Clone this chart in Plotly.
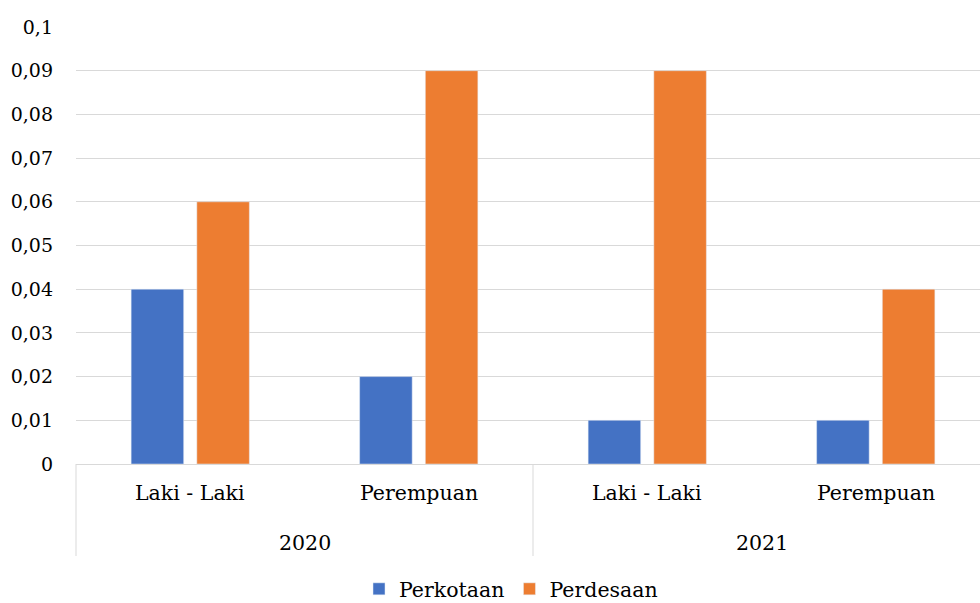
import plotly.graph_objects as go

years = ["2020", "2020", "2021", "2021"]
genders = ["Laki - Laki", "Perempuan", "Laki - Laki", "Perempuan"]
perkotaan = [0.04, 0.02, 0.01, 0.01]
perdesaan = [0.06, 0.09, 0.09, 0.04]
year_labels = ["2020", "2021"]

FONT = "DejaVu Serif"
GRID = "#d9d9d9"
W, H = 990, 603
ML, MT, MB = 76, 27, 139
LBL = 20.5

fig = go.Figure()
fig.add_trace(go.Bar(name="Perkotaan", x=[years, genders], y=perkotaan, marker_color="#4472C4"))
fig.add_trace(go.Bar(name="Perdesaan", x=[years, genders], y=perdesaan, marker_color="#ED7D31"))

plot_h = H - MT - MB
plot_w = W - ML
n = len(genders)
ny = len(year_labels)
annotations = []
for i, g in enumerate(genders):
    annotations.append(dict(x=(i + 0.5) / n, y=-29 / plot_h, xref="paper", yref="paper",
                            xanchor="center", yanchor="middle", text=g, showarrow=False,
                            font=dict(family=FONT, size=LBL)))
for j, yl in enumerate(year_labels):
    annotations.append(dict(x=(j + 0.5) / ny, y=-79 / plot_h, xref="paper", yref="paper",
                            xanchor="center", yanchor="middle", text=yl, showarrow=False,
                            font=dict(family=FONT, size=LBL)))
shapes = []
for j in range(ny + 1):
    shapes.append(dict(type="line", xref="paper", yref="paper", x0=j / ny, x1=j / ny,
                       y0=0, y1=-92 / plot_h, line=dict(color=GRID, width=1)))

fig.update_layout(
    width=W, height=H, autosize=False,
    margin=dict(l=ML, r=0, t=MT, b=MB, autoexpand=False),
    plot_bgcolor="white", paper_bgcolor="white",
    separators=", ",
    font=dict(family=FONT, size=19, color="#000000"),
    barmode="group", bargap=0.425, bargroupgap=0.2,
    legend=dict(orientation="h", x=(511 - ML) / plot_w, xanchor="center", y=-125 / plot_h,
                yanchor="middle", font=dict(family=FONT, size=LBL), itemwidth=30,
                traceorder="normal"),
    showlegend=True,
    annotations=annotations,
    shapes=shapes,
)
fig.update_yaxes(range=[0, 0.1], dtick=0.01, showgrid=True, gridcolor=GRID, gridwidth=1,
                 zeroline=False, showline=False, ticks="", ticklabelstandoff=22,
                 automargin=False, tickfont=dict(family=FONT, size=19))
fig.update_xaxes(type="multicategory", showline=True, linecolor=GRID, linewidth=1,
                 showdividers=False, ticks="", showgrid=False, showticklabels=False,
                 automargin=False)

fig.write_html("out.html",
               config={"displayModeBar": False, "responsive": False},
               post_script="document.body.style.margin='0';document.body.style.overflow='hidden';")
